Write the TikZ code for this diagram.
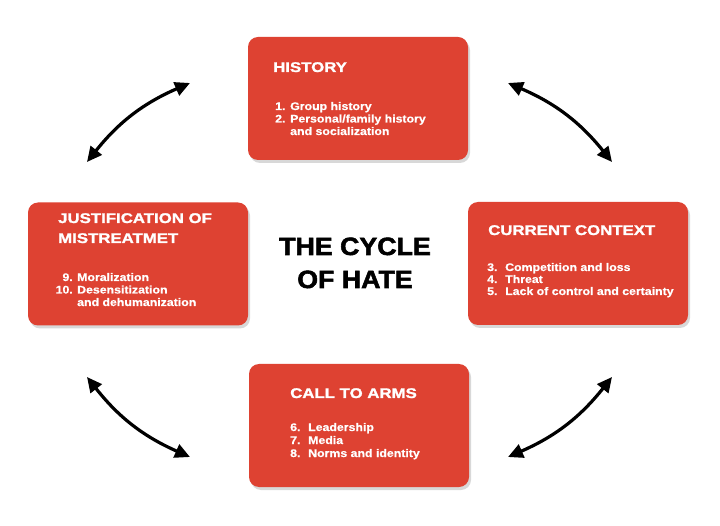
\documentclass[tikz,border=0pt]{standalone}
\usepackage{fontspec}
\setmainfont{Liberation Sans}
\newfontfamily\headfont{Liberation Sans}[FakeStretch=1.2, BoldFeatures={FakeBold=1.6}]
\newfontfamily\bodyfont{Liberation Sans}[FakeStretch=1.12, BoldFeatures={FakeBold=0.6}]
\newfontfamily\titlefont{Liberation Sans}[FakeStretch=1.07, BoldFeatures={FakeBold=2.2}]
\usetikzlibrary{shadows,arrows.meta}
\definecolor{boxred}{RGB}{222,66,50}
\begin{document}
\begin{tikzpicture}[x=1pt,y=-1pt,
  box/.style={draw=none, fill=boxred, rounded corners=10pt, minimum width=220pt, minimum height=123pt, inner sep=0pt,
    drop shadow={opacity=0.3, shadow xshift=2pt, shadow yshift=-3pt}},
  head/.style={anchor=base west, inner sep=0pt, text=white, font=\headfont\bfseries\fontsize{14}{20}\selectfont},
  item/.style={anchor=base west, inner sep=0pt, text=white, font=\bodyfont\bfseries\fontsize{11}{13}\selectfont},
  numr/.style={item, anchor=base east},
  title/.style={anchor=base, inner sep=0pt, text=black, font=\titlefont\bfseries\fontsize{25}{30}\selectfont},
  cyc/.style={draw=black, line width=3.2pt, {Triangle[length=15pt,width=14pt]}-{Triangle[length=15pt,width=14pt]}, bend left=14}]
\useasboundingbox[fill=white] (0,0) rectangle (720,526);

% boxes
\node[box] (history) at (358,98.5) {};
\node[box] (justif) at (138,264) {};
\node[box] (context) at (578,263.5) {};
\node[box] (arms) at (359,425.5) {};

% HISTORY
\node[head] (h1) at (273,72) {HISTORY};
\node[item] (h2n) at (275,110) {1.};
\node[item] (h2) at (290,110) {Group history};
\node[item] (h3n) at (275,122.5) {2.};
\node[item] (h3) at (290,122.5) {Personal/family history};
\node[item] (h4) at (290,135) {and socialization};

% JUSTIFICATION
\node[head] (j1) at (58,223) {JUSTIFICATION OF};
\node[head] (j2) at (58,243) {MISTREATMET};
\node[numr] (j3n) at (73,281) {9.};
\node[item] (j3) at (77,281) {Moralization};
\node[numr] (j4n) at (73,293.5) {10.};
\node[item] (j4) at (77,293.5) {Desensitization};
\node[item] (j5) at (77,306) {and dehumanization};

% CURRENT CONTEXT
\node[head] (c1) at (488,235) {CURRENT CONTEXT};
\node[item] (c2n) at (487,271) {3.};
\node[item] (c2) at (505,271) {Competition and loss};
\node[item] (c3n) at (487,283) {4.};
\node[item] (c3) at (505,283) {Threat};
\node[item] (c4n) at (487,295) {5.};
\node[item] (c4) at (505,295) {Lack of control and certainty};

% CALL TO ARMS
\node[head] (a1) at (290,398) {CALL TO ARMS};
\node[item] (a2n) at (290,431) {6.};
\node[item] (a2) at (308,431) {Leadership};
\node[item] (a3n) at (290,444) {7.};
\node[item] (a3) at (308,444) {Media};
\node[item] (a4n) at (290,457) {8.};
\node[item] (a4) at (308,457) {Norms and identity};

% title
\node[title] (t1) at (355,255) {THE CYCLE};
\node[title] (t2) at (355,288) {OF HATE};

% arrows
\coordinate (tlA) at (87,162);
\coordinate (tlB) at (190,83);
\coordinate (trA) at (508,83);
\coordinate (trB) at (612,162);
\coordinate (brA) at (612,377);
\coordinate (brB) at (508,457);
\coordinate (blA) at (190,457);
\coordinate (blB) at (87,377);
\draw[cyc] (tlA) to (tlB);
\draw[cyc] (trA) to (trB);
\draw[cyc] (brA) to (brB);
\draw[cyc] (blA) to (blB);
\end{tikzpicture}
\end{document}
